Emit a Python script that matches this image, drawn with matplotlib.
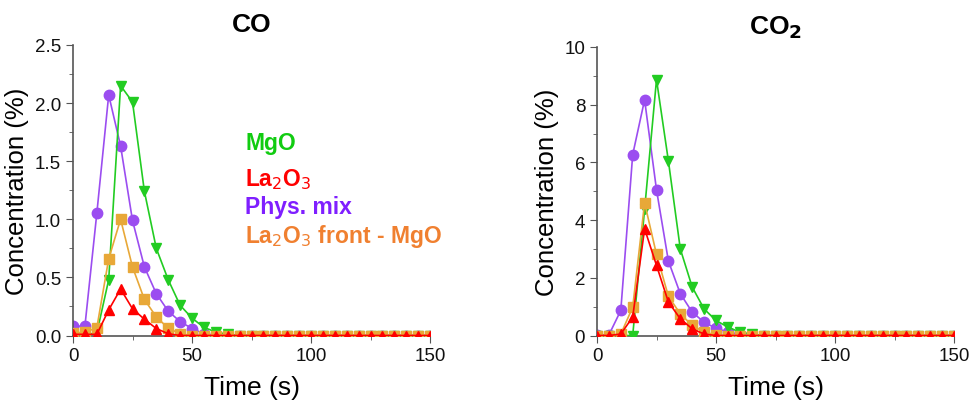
import numpy as np
import matplotlib.pyplot as plt
from matplotlib.ticker import MultipleLocator

plt.rcParams['font.family'] = ['Liberation Sans', 'DejaVu Sans']

# ========================
# Data (time every 5 s)
# ========================
time = np.arange(0, 155, 5)

co_mgo = [0.01, 0.01, 0.02, 0.48, 2.15, 2.01, 1.24, 0.75, 0.48, 0.26, 0.15, 0.07, 0.03, 0.01] + [0.0] * 17
co_la = [0.01, 0.01, 0.01, 0.22, 0.40, 0.23, 0.14, 0.06, 0.015] + [0.0] * 22
co_mix = [0.08, 0.08, 1.05, 2.07, 1.63, 0.99, 0.59, 0.36, 0.21, 0.12, 0.06, 0.015] + [0.0] * 19
co_front = [0.02, 0.03, 0.065, 0.66, 1.00, 0.59, 0.31, 0.16, 0.063, 0.015] + [0.0] * 21

co2_mgo = [0.0, 0.0, 0.0, 0.0, 4.37, 8.87, 6.05, 3.00, 1.68, 0.92, 0.52, 0.29, 0.12, 0.05] + [0.0] * 17
co2_la = [0.0, 0.0, 0.05, 0.64, 3.70, 2.43, 1.16, 0.58, 0.23, 0.05] + [0.0] * 21
co2_mix = [0.02, 0.02, 0.87, 6.27, 8.17, 5.05, 2.58, 1.45, 0.81, 0.46, 0.25, 0.12, 0.03] + [0.0] * 18
co2_front = [0.0, 0.0, 0.05, 0.98, 4.60, 2.81, 1.36, 0.75, 0.35, 0.12, 0.02] + [0.0] * 20

GREEN = '#22CC22'
RED = '#FF0000'
PURPLE = '#9B4DF0'
ORANGE = '#E8A838'

labels = ['MgO', 'La$_2$O$_3$', 'Phys. mix', 'La$_2$O$_3$ front - MgO']
text_colors = ['#11CC11', '#FF0000', '#7F1FFF', '#F08030']


def draw_panel(ax, mgo, la, mix, front, ymax, ymajor, title):
    ax.plot(time, mgo, color=GREEN, marker='v', ms=7.5, lw=1.2, zorder=3)
    ax.plot(time, la, color=RED, marker='^', ms=7.5, lw=1.2, zorder=4)
    ax.plot(time, mix, color=PURPLE, marker='o', ms=7.5, lw=1.2, zorder=2)
    ax.plot(time, front, color=ORANGE, marker='s', ms=6.5, lw=1.2, zorder=3)
    ax.set_xlim(0, 150)
    ax.set_ylim(0, ymax)
    ax.xaxis.set_major_locator(MultipleLocator(50))
    ax.xaxis.set_minor_locator(MultipleLocator(25))
    ax.yaxis.set_major_locator(MultipleLocator(ymajor))
    ax.yaxis.set_minor_locator(MultipleLocator(ymajor / 2))
    ax.spines['top'].set_visible(False)
    ax.spines['right'].set_visible(False)
    for s in ('left', 'bottom'):
        ax.spines[s].set_color('#555555')
        ax.spines[s].set_linewidth(1.2)
    ax.tick_params(which='both', direction='out', colors='#555555', labelcolor='#111111', labelsize=13.5)
    ax.tick_params(which='major', length=5)
    ax.tick_params(which='minor', length=3)
    ax.set_xlabel('Time (s)', fontsize=19, labelpad=8)
    ax.set_ylabel('Concentration (%)', fontsize=18.5, labelpad=4)
    ax.set_title(title, fontsize=19, fontweight='bold', pad=10)


fig = plt.figure(figsize=(9.71, 4.02), dpi=100)
ax1 = fig.add_axes([73 / 971, 1 - 336.5 / 402, 357 / 971, 290.5 / 402])
ax2 = fig.add_axes([597 / 971, 1 - 336.5 / 402, 357 / 971, 288.5 / 402])

draw_panel(ax1, co_mgo, co_la, co_mix, co_front, 2.5, 0.5, 'CO')
draw_panel(ax2, co2_mgo, co2_la, co2_mix, co2_front, 10, 2, 'CO$_\\mathbf{2}$')
ax1.yaxis.set_major_formatter(plt.FormatStrFormatter('%.1f'))

# colored text legend
ys = [0.665, 0.54, 0.445, 0.345]
for lab, c, yy in zip(labels, text_colors, ys):
    ax1.text(0.483, yy, lab, color=c, fontsize=16.5, fontweight='bold',
             transform=ax1.transAxes, va='center', ha='left')

fig.savefig('out.png', dpi=100)
